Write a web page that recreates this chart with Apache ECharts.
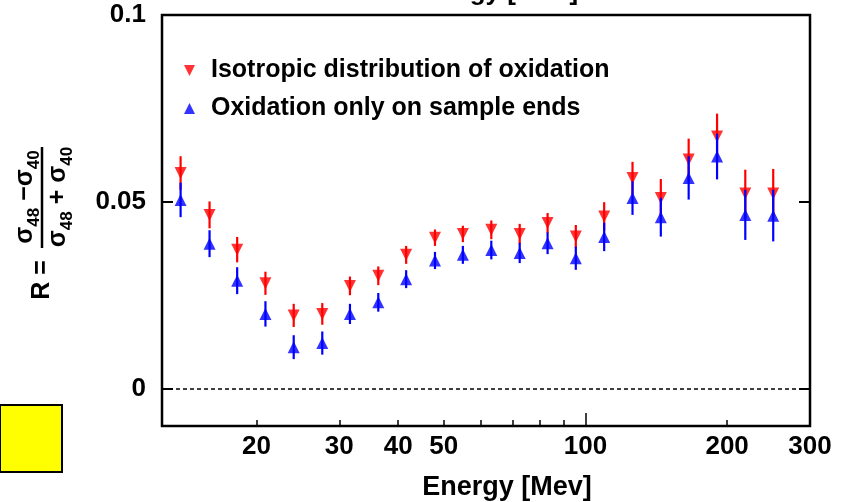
<!DOCTYPE html>
<html>
<head>
<meta charset="utf-8">
<script src="https://cdn.jsdelivr.net/npm/echarts@6/dist/echarts.min.js"></script>
<style>
html,body{margin:0;padding:0;background:#fff;}
#chart{width:842px;height:502px;}
</style>
</head>
<body>
<div id="chart"></div>
<script>
const energy = [13.8, 15.9, 18.2, 20.9, 24.0, 27.6, 31.6, 36.3, 41.6, 47.9, 54.9, 63.1, 72.5, 83.1, 95.4, 109.6, 125.9, 144.6, 165.7, 190.4, 218.6, 250.6];
const isoR = [0.0577, 0.0465, 0.0372, 0.0282, 0.0196, 0.0200, 0.0275, 0.0302, 0.0358, 0.0404, 0.0414, 0.0425, 0.0414, 0.0443, 0.0407, 0.0461, 0.0564, 0.0510, 0.0613, 0.0675, 0.0522, 0.0522];
const isoErr = [0.0045, 0.0036, 0.0034, 0.0031, 0.0031, 0.0029, 0.0025, 0.0025, 0.0024, 0.0022, 0.0022, 0.0025, 0.0027, 0.0027, 0.0031, 0.0038, 0.0043, 0.0051, 0.0056, 0.0061, 0.0064, 0.0066];
const endsR = [0.0505, 0.0388, 0.0289, 0.0200, 0.0111, 0.0122, 0.0200, 0.0231, 0.0293, 0.0343, 0.0358, 0.0371, 0.0363, 0.0389, 0.0349, 0.0406, 0.0510, 0.0459, 0.0564, 0.0621, 0.0465, 0.0463];
const endsErr = [0.0046, 0.0036, 0.0036, 0.0034, 0.0032, 0.0031, 0.0027, 0.0025, 0.0024, 0.0023, 0.0024, 0.0025, 0.0027, 0.0029, 0.0031, 0.0038, 0.0045, 0.0052, 0.0058, 0.0061, 0.0067, 0.0069];
const xLabels = [20, 30, 40, 50, 100, 200, 300];
const xMinorTicks = [20, 30, 40, 50, 60, 70, 80, 90, 200];
const xMajorTicks = [100];
const yLabels = [0, 0.05, 0.1];
const seriesNames = ['Isotropic distribution of oxidation', 'Oxidation only on sample ends'];

const FONT = 'Liberation Sans';
const RED = '#ff0000', BLUE = '#0000ff';
const chart = echarts.init(document.getElementById('chart'), null, {renderer: 'canvas'});

function errBar(color) {
  return function (params, api) {
    const x = api.value(0), y = api.value(1), e = api.value(2);
    const p1 = api.coord([x, y + e]);
    const p2 = api.coord([x, y - e]);
    return {type: 'line', shape: {x1: p1[0], y1: p1[1], x2: p2[0], y2: p2[1]},
      style: {stroke: color, lineWidth: 2.2}};
  };
}

const xCommon = {type: 'log', min: 12.6, max: 300, gridIndex: 0, position: 'bottom',
  splitLine: {show: false}, axisLine: {show: false, onZero: false}, minorTick: {show: false}};

const option = {
  animation: false,
  backgroundColor: '#fff',
  grid: {left: 162, right: 32, top: 15, bottom: 76, show: true, borderColor: '#000', borderWidth: 2.5, backgroundColor: 'transparent'},
  legend: {
    orient: 'vertical', left: 179, top: 53, itemGap: 13, itemWidth: 11, itemHeight: 11,
    textStyle: {fontFamily: FONT, fontWeight: 'bold', fontSize: 25, color: '#000', padding: [0, 0, 0, 11]},
    data: [
      {name: seriesNames[0], icon: 'path://M0,0L10,0L5,10Z'},
      {name: seriesNames[1], icon: 'path://M5,0L10,10L0,10Z'}
    ]
  },
  xAxis: [
    Object.assign({}, xCommon, {
      axisTick: {show: true, inside: true, length: 6, lineStyle: {color: '#000', width: 1.5}, customValues: xMinorTicks},
      axisLabel: {show: true, customValues: xLabels, margin: 8, fontFamily: FONT, fontWeight: 'bold', fontSize: 26, color: '#000'}
    }),
    Object.assign({}, xCommon, {
      axisTick: {show: true, inside: true, length: 13, lineStyle: {color: '#000', width: 1.5}, customValues: xMajorTicks},
      axisLabel: {show: false}
    })
  ],
  yAxis: [
    {type: 'value', min: -0.01, max: 0.1, position: 'left', splitLine: {show: false}, axisLine: {show: false},
      axisTick: {show: true, inside: true, length: 11, lineStyle: {color: '#000', width: 2}, customValues: yLabels},
      axisLabel: {customValues: yLabels, margin: 16, fontFamily: FONT, fontWeight: 'bold', fontSize: 26, color: '#000'}},
    {type: 'value', min: -0.01, max: 0.1, position: 'right', splitLine: {show: false}, axisLine: {show: false},
      axisTick: {show: true, inside: true, length: 11, lineStyle: {color: '#000', width: 2}, customValues: yLabels},
      axisLabel: {show: false}}
  ],
  graphic: [
    {type: 'text', x: 495, y: 6, style: {text: 'Energy [MeV]', font: 'bold 26px "Liberation Sans"', fill: '#000', align: 'center', verticalAlign: 'bottom'}},
    {type: 'text', x: 507, y: 488, style: {text: 'Energy [Mev]', font: 'bold 27px "Liberation Sans"', fill: '#000', align: 'center', verticalAlign: 'middle'}},
    {type: 'rect', shape: {x: 0, y: 405, width: 62, height: 67}, style: {fill: '#ffff00', stroke: '#000', lineWidth: 2}},
    {type: 'group', x: 42, y: 222, rotation: Math.PI / 2, children: [
      {type: 'text', x: -58, y: 0, style: {text: 'R =', font: 'bold 25px "Liberation Sans"', fill: '#000', align: 'center', verticalAlign: 'middle'}},
      {type: 'line', shape: {x1: -26, y1: 0, x2: 75, y2: 0}, style: {stroke: '#000', lineWidth: 2.5}},
      {type: 'text', x: 25, y: -14, style: {
        text: '{s|σ}{b|48}{s| −σ}{b|40}', align: 'center', verticalAlign: 'middle',
        rich: {s: {font: 'bold 25px "Liberation Sans"', fill: '#000', verticalAlign: 'top', lineHeight: 30},
               b: {font: 'bold 17px "Liberation Sans"', fill: '#000', verticalAlign: 'bottom', lineHeight: 30}}}},
      {type: 'text', x: 25, y: 19, style: {
        text: '{s|σ}{b|48}{s| + σ}{b|40}', align: 'center', verticalAlign: 'middle',
        rich: {s: {font: 'bold 25px "Liberation Sans"', fill: '#000', verticalAlign: 'top', lineHeight: 30},
               b: {font: 'bold 17px "Liberation Sans"', fill: '#000', verticalAlign: 'bottom', lineHeight: 30}}}}
    ]}
  ],
  series: [
    {type: 'custom', name: 'isoErr', xAxisIndex: 0, yAxisIndex: 0, renderItem: errBar(RED),
      encode: {x: 0, y: 1}, data: energy.map((x, i) => [x, isoR[i], isoErr[i]]), z: 2, silent: true},
    {type: 'scatter', name: seriesNames[0], xAxisIndex: 0, yAxisIndex: 0, symbol: 'triangle', symbolRotate: 180, symbolSize: 12,
      itemStyle: {color: RED}, data: energy.map((x, i) => [x, isoR[i]]), z: 3,
      markLine: {silent: true, symbol: 'none', label: {show: false},
        lineStyle: {color: '#000', type: [4, 3], width: 1.5}, data: [{yAxis: 0}]}},
    {type: 'custom', name: 'endsErr', xAxisIndex: 0, yAxisIndex: 0, renderItem: errBar(BLUE),
      encode: {x: 0, y: 1}, data: energy.map((x, i) => [x, endsR[i], endsErr[i]]), z: 4, silent: true},
    {type: 'scatter', name: seriesNames[1], xAxisIndex: 0, yAxisIndex: 0, symbol: 'triangle', symbolSize: 12,
      itemStyle: {color: BLUE}, data: energy.map((x, i) => [x, endsR[i]]), z: 5}
  ]
};
chart.setOption(option);
</script>
</body>
</html>
